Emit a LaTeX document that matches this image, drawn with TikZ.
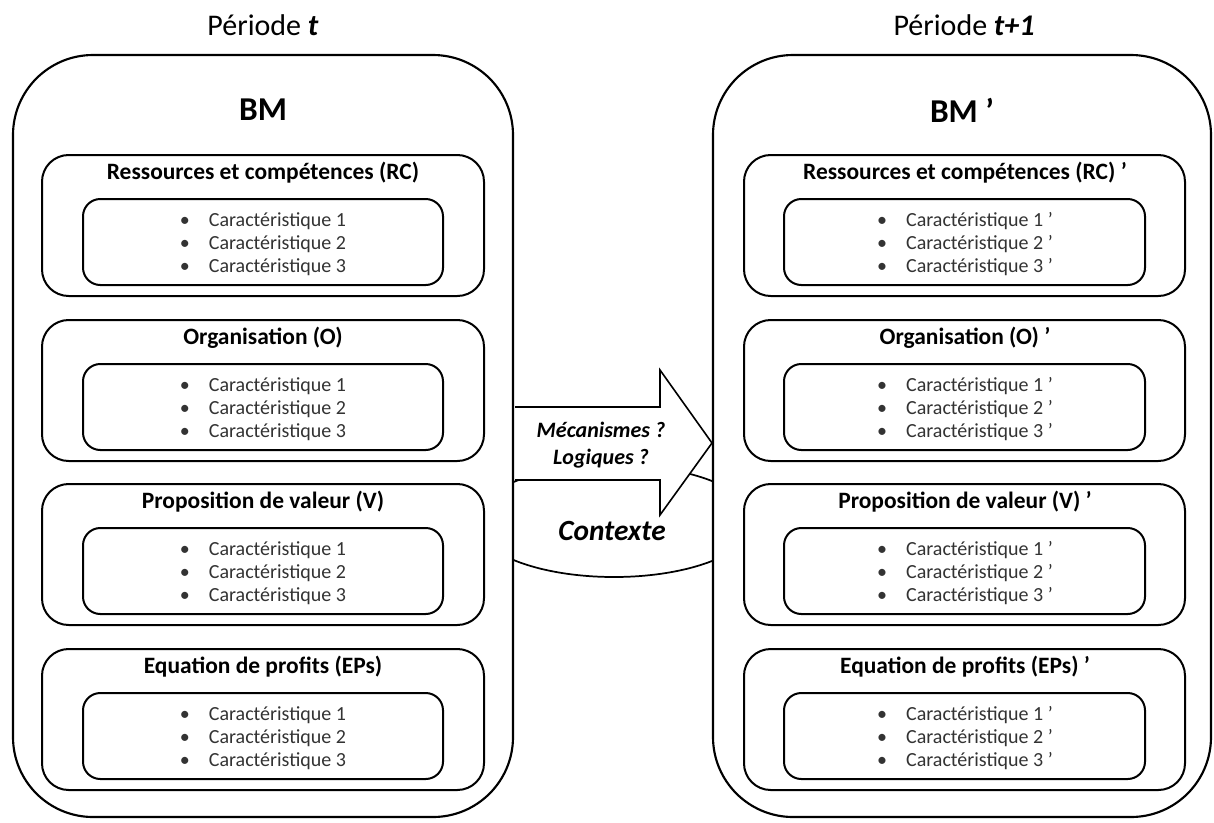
\documentclass[tikz,border=0pt]{standalone}
\usepackage{fontspec}
\setmainfont{Carlito}

\tikzset{
  bmbox/.style={draw, line width=1.6pt, fill=white, rounded corners=60pt},
  blockbox/.style={draw, line width=1.5pt, fill=white, rounded corners=20pt},
  itembox/.style={draw, line width=1.5pt, fill=white, rounded corners=13pt},
  periodlabel/.style={font=\fontsize{22.5}{26}\selectfont},
  bmlabel/.style={font=\fontsize{25}{28}\selectfont\bfseries},
  blocktitle/.style={font=\fontsize{17.6}{20}\selectfont\bfseries},
  itemlist/.style={align=left, font=\fontsize{15}{17.3}\selectfont, text=black!80}
}
\newcommand{\itm}{\textbullet\hspace{0.95em}}

\begin{document}
\begin{tikzpicture}[x=0.75pt, y=-0.75pt]
\useasboundingbox (0,0) rectangle (1214,822);

% context ellipse, partly hidden by the two BM boxes
\draw[line width=1.3pt] (614,521) ellipse (140 and 56);

% the two business models
\draw[bmbox] (13,55) rectangle (513,817);
\draw[bmbox] (713,55) rectangle (1211,817);
\node[periodlabel] (pt) at (263,25) {Période \textbf{\textit{t}}};
\node[periodlabel] (pt1) at (964,25) {Période \textbf{\textit{t+1}}};
\node[bmlabel] (bm) at (263,110) {BM};
\node[bmlabel] (bm1) at (962,110) {BM ’};

\foreach \y/\ttl/\nm in {155/Ressources et compétences (RC)/rc, 320/Organisation (O)/o,
                         484/Proposition de valeur (V)/v, 649/Equation de profits (EPs)/ep}{
  % left (t)
  \draw[blockbox] (42,\y) rectangle (484,\y+141);
  \node[blocktitle] (\nm-t) at (263,\y+18) {\ttl};
  \draw[itembox] (83,\y+44) rectangle (443,\y+130);
  \node[itemlist] (\nm-t-items) at (263,\y+89)
    {\itm Caractéristique 1\\ \itm Caractéristique 2\\ \itm Caractéristique 3};
  % right (t+1)
  \draw[blockbox] (744,\y) rectangle (1185,\y+141);
  \node[blocktitle] (\nm-t1) at (965,\y+18) {\ttl\ ’};
  \draw[itembox] (784,\y+44) rectangle (1145,\y+130);
  \node[itemlist] (\nm-t1-items) at (965,\y+89)
    {\itm Caractéristique 1 ’\\ \itm Caractéristique 2 ’\\ \itm Caractéristique 3 ’};
}

% transition arrow
\filldraw[fill=white, line width=1.2pt] (515,407) -- (660,407) -- (660,370) -- (712,443)
  -- (660,515) -- (660,480) -- (515,480);
\node[align=center, font=\fontsize{16.5}{20}\selectfont\bfseries\itshape] (meca) at (601,445)
  {Mécanismes ?\\ Logiques ?};
\node[font=\fontsize{22}{24}\selectfont\bfseries\itshape] (ctx) at (612,531) {Contexte};
\end{tikzpicture}
\end{document}
